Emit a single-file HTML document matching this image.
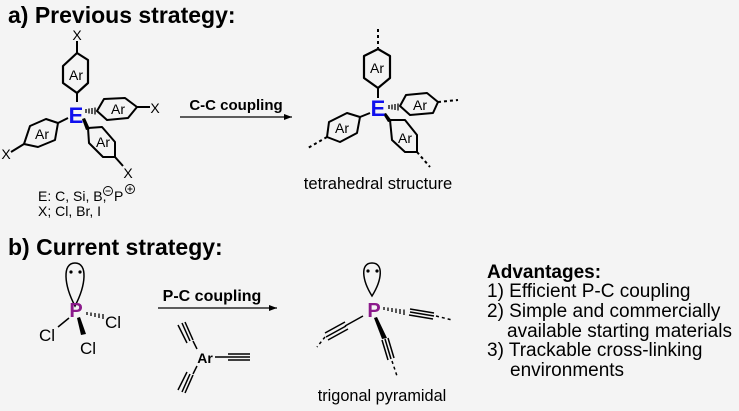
<!DOCTYPE html>
<html><head><meta charset="utf-8"><style>
html,body{margin:0;padding:0;background:#f4f4f4;}
svg{display:block;font-family:"Liberation Sans",Arial,sans-serif;}
</style></head><body>
<svg width="739" height="411" viewBox="0 0 739 411" xmlns="http://www.w3.org/2000/svg">
<rect width="739" height="411" fill="#f4f4f4"/>
<defs>
<marker id="ah" markerWidth="8" markerHeight="6" refX="8" refY="3" orient="auto" markerUnits="userSpaceOnUse"><path d="M0,0 L8,3 L0,6 z" fill="#000"/></marker>
</defs>
<g fill="#000">
<text x="8" y="23" font-size="23" font-weight="bold">a) Previous strategy:</text>
<text x="8" y="255" font-size="23" font-weight="bold">b) Current strategy:</text>
</g>
<g stroke="#000" stroke-width="2" fill="none" stroke-linejoin="round">
<line x1="77" y1="41" x2="77" y2="53"/>
<polygon points="77,53 88,60 88,83 77,93 63,83 63,66" stroke-width="2.2"/>
<line x1="77" y1="93" x2="77" y2="102"/>
<polygon points="97,111 104,99 125,98 137,107 128,118 107,120"/>
<line x1="137" y1="107" x2="150" y2="107"/>
<polygon points="58,123 46,119 30,126 24,144 38,147 55,140"/>
<line x1="58" y1="123" x2="68" y2="118"/>
<line x1="24" y1="144" x2="11" y2="152"/>
<polygon points="88,128 102,127 115,142 115,157 103,157 89,143"/>
<line x1="115" y1="157" x2="123" y2="166"/>
<line x1="378" y1="29" x2="378" y2="48" stroke-dasharray="3,3"/>
<polygon points="378,49 390,56 390,78 378,88 364,78 364,56" stroke-width="2.2"/>
<line x1="378" y1="88" x2="378" y2="98"/>
<polygon points="400,106 406,95 427,93 438,102 433,113 410,115"/>
<line x1="438" y1="102" x2="458" y2="100" stroke-dasharray="3,3"/>
<polygon points="360,117 347,113 329,122 327,137 340,142 357,133"/>
<line x1="360" y1="117" x2="370" y2="113"/>
<line x1="327" y1="137" x2="308" y2="148" stroke-dasharray="3,3"/>
<polygon points="390,120 405,120 417,135 417,152 405,152 392,140"/>
<line x1="417" y1="152" x2="430" y2="167" stroke-dasharray="3,3"/>
<line x1="180" y1="117" x2="292" y2="117" stroke-width="1.2" marker-end="url(#ah)"/>
<line x1="158" y1="308" x2="277" y2="308" stroke-width="1.2" marker-end="url(#ah)"/>
</g>
<g stroke="#000" stroke-width="1.3">
<line x1="86" y1="109" x2="86" y2="113"/><line x1="89" y1="108.5" x2="89" y2="113.5"/><line x1="92" y1="108" x2="92" y2="114"/><line x1="95" y1="107.5" x2="95" y2="114.5"/>
<line x1="389" y1="105" x2="389" y2="109"/><line x1="392" y1="104.5" x2="392" y2="109.5"/><line x1="395" y1="104" x2="395" y2="110"/><line x1="398" y1="103.5" x2="398" y2="110.5"/>
</g>
<g fill="#000">
<polygon points="82,119 85,118 90,129 86,130"/>
<polygon points="383,114 386,113 392,121 388,122"/>
</g>
<g font-size="14" fill="#000">
<text x="77" y="40" text-anchor="middle">X</text>
<text x="155" y="113" text-anchor="middle">X</text>
<text x="6" y="159" text-anchor="middle">X</text>
<text x="128" y="178" text-anchor="middle">X</text>
<text x="76" y="80" text-anchor="middle">Ar</text>
<text x="118" y="114" text-anchor="middle">Ar</text>
<text x="42" y="139" text-anchor="middle">Ar</text>
<text x="103" y="147" text-anchor="middle">Ar</text>
<text x="377" y="73" text-anchor="middle">Ar</text>
<text x="420" y="110" text-anchor="middle">Ar</text>
<text x="342" y="133" text-anchor="middle">Ar</text>
<text x="405" y="143" text-anchor="middle">Ar</text>
<text x="38" y="201">E: C, Si, B,</text>
<text x="114" y="201">P</text>
<text x="38" y="216">X; Cl, Br, I</text>
<text x="378" y="189" text-anchor="middle" font-size="16.6">tetrahedral structure</text>
<text x="236" y="110" text-anchor="middle" font-weight="bold" font-size="15">C-C coupling</text>
<text x="212" y="301" text-anchor="middle" font-weight="bold" font-size="16">P-C coupling</text>
<text x="382" y="401" text-anchor="middle" font-size="16.3">trigonal pyramidal</text>
</g>
<g fill="none" stroke="#000" stroke-width="0.9">
<circle cx="108" cy="191" r="4.5"/><line x1="105.5" y1="191" x2="110.5" y2="191"/>
<circle cx="130" cy="189" r="4.5"/><line x1="127.5" y1="189" x2="132.5" y2="189"/><line x1="130" y1="186.5" x2="130" y2="191.5"/>
</g>
<g font-size="22" font-weight="bold" fill="#1010ee">
<text x="76" y="123" text-anchor="middle">E</text>
<text x="378" y="116" text-anchor="middle">E</text>
</g>
<g stroke="#000" stroke-width="1.5" fill="none">
<path d="M75,263 C62,263 64,285 75,306 C86,285 88,263 75,263 Z"/>
<path d="M372,263 C360,263 362,280 372,296 C382,280 384,263 372,263 Z"/>
<line x1="58" y1="327" x2="69" y2="318"/>
<line x1="215" y1="357" x2="228" y2="357"/>
<line x1="228" y1="354" x2="250" y2="354"/><line x1="228" y1="357" x2="250" y2="357"/><line x1="228" y1="360" x2="250" y2="360"/>
<line x1="197" y1="349" x2="193" y2="341"/>
<line x1="187" y1="343" x2="178" y2="325"/><line x1="190" y1="341" x2="182" y2="323"/><line x1="193" y1="340" x2="185" y2="322"/>
<line x1="197" y1="366" x2="193" y2="374"/>
<line x1="187" y1="372" x2="178" y2="390"/><line x1="190" y1="374" x2="182" y2="392"/><line x1="193" y1="375" x2="185" y2="393"/>
<line x1="363" y1="316" x2="345" y2="326"/>
<line x1="345" y1="322" x2="325" y2="333"/><line x1="346" y1="326" x2="326" y2="337"/><line x1="348" y1="329" x2="328" y2="340"/>
<line x1="325" y1="337" x2="317" y2="347" stroke-dasharray="3,3"/>
<line x1="410" y1="309" x2="434" y2="313"/><line x1="410" y1="312" x2="434" y2="316"/><line x1="409" y1="315" x2="433" y2="319"/>
<line x1="436" y1="316" x2="452" y2="320" stroke-dasharray="3,3"/>
<line x1="382" y1="340" x2="388" y2="360"/><line x1="385" y1="339" x2="391" y2="359"/><line x1="388" y1="338" x2="394" y2="358"/>
<line x1="392" y1="361" x2="397" y2="376" stroke-dasharray="3,3"/>
</g>
<g stroke="#000" stroke-width="1.3">
<line x1="87" y1="312" x2="87" y2="315"/><line x1="91" y1="312.5" x2="91" y2="316"/><line x1="95" y1="313" x2="95" y2="317"/><line x1="99" y1="313.5" x2="99" y2="318"/><line x1="103" y1="314" x2="103" y2="319"/>
<line x1="384" y1="307" x2="384" y2="310"/><line x1="388" y1="307.5" x2="388" y2="311"/><line x1="392" y1="308" x2="392" y2="312"/><line x1="396" y1="308.5" x2="396" y2="313"/><line x1="400" y1="309" x2="400" y2="314"/><line x1="404" y1="309.5" x2="404" y2="315"/>
</g>
<g fill="#000">
<circle cx="71" cy="272" r="1.6"/><circle cx="80" cy="272" r="1.6"/>
<circle cx="368" cy="271" r="1.6"/><circle cx="377" cy="271" r="1.6"/>
<polygon points="77,318 80,317 86,334 81,335"/>
<polygon points="374,318 377,317 387,338 382,339"/>
</g>
<g font-size="17" fill="#000">
<text x="113" y="328" text-anchor="middle">Cl</text>
<text x="47" y="341" text-anchor="middle">Cl</text>
<text x="88" y="354" text-anchor="middle">Cl</text>
<text x="205" y="363" text-anchor="middle" font-size="14" font-weight="bold">Ar</text>
</g>
<g font-size="20" font-weight="bold" fill="#8b1a8b">
<text x="76" y="317" text-anchor="middle">P</text>
<text x="374" y="317" text-anchor="middle">P</text>
</g>
<g font-size="19" fill="#000">
<text x="487" y="278" font-weight="bold">Advantages:</text>
<text x="487" y="297">1) Efficient P-C coupling</text>
<text x="487" y="317">2) Simple and commercially</text>
<text x="507" y="337">available starting materials</text>
<text x="487" y="356">3) Trackable cross-linking</text>
<text x="510" y="376">environments</text>
</g>
</svg>
</body></html>
